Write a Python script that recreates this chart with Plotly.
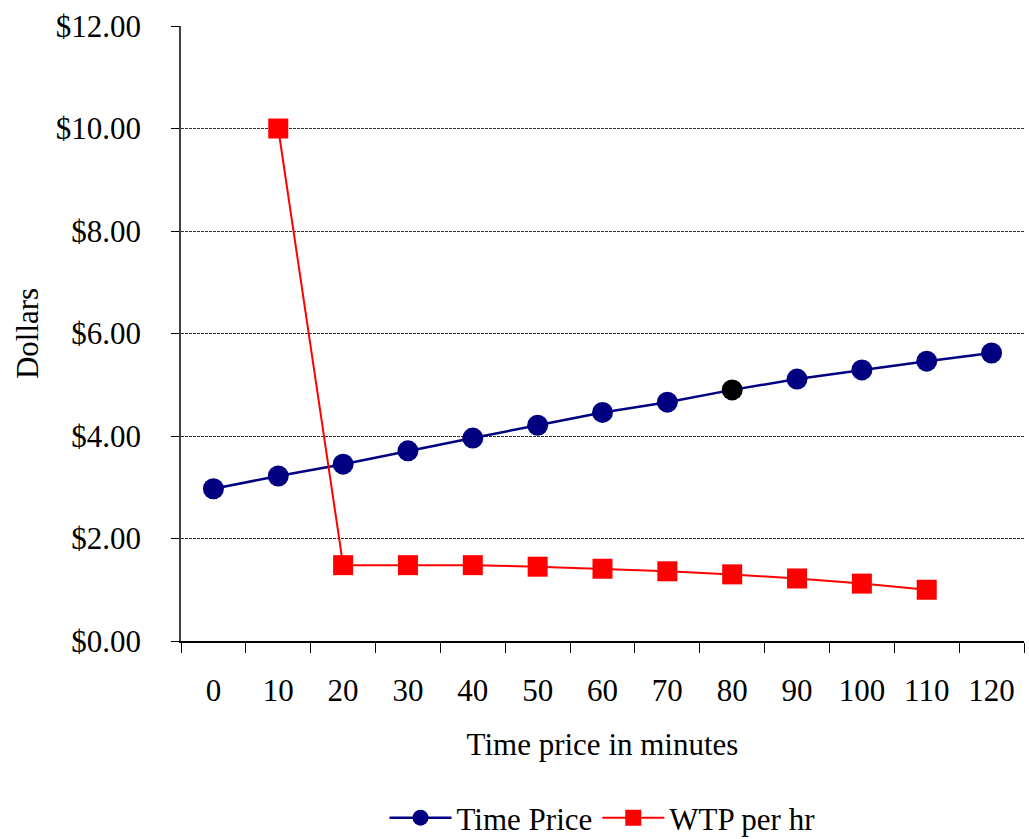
import plotly.graph_objects as go

minutes = ["0", "10", "20", "30", "40", "50", "60", "70", "80", "90", "100", "110", "120"]
time_price = [2.97, 3.22, 3.45, 3.71, 3.96, 4.21, 4.46, 4.66, 4.90, 5.11, 5.29, 5.46, 5.62]
wtp_per_hr = [None, 10.00, 1.48, 1.48, 1.48, 1.45, 1.41, 1.36, 1.30, 1.22, 1.12, 1.00, None]
y_ticks = [0, 2, 4, 6, 8, 10, 12]
y_tick_labels = ["$0.00", "$2.00", "$4.00", "$6.00", "$8.00", "$10.00", "$12.00"]

FONT = "Liberation Serif, Times New Roman, serif"
FS = 31
tp_colors = ["#000080"] * len(minutes)
tp_colors[minutes.index("80")] = "#000000"

fig = go.Figure()
fig.add_trace(go.Scatter(
    x=minutes, y=time_price, name="Time Price", mode="lines+markers",
    line=dict(color="#000080", width=2.5),
    marker=dict(symbol="circle", size=21, color=tp_colors, line=dict(width=0)),
))
fig.add_trace(go.Scatter(
    x=minutes, y=wtp_per_hr, name="WTP per hr", mode="lines+markers",
    line=dict(color="#FF0000", width=2),
    marker=dict(symbol="square", size=20, color="#FF0000", line=dict(width=0)),
    connectgaps=False,
))

fig.update_layout(
    width=1029, height=839,
    margin=dict(l=181, r=5, t=26, b=198, autoexpand=False),
    paper_bgcolor="white", plot_bgcolor="white",
    font=dict(family=FONT, size=FS, color="black"),
    showlegend=True,
    legend=dict(orientation="h", x=0.5, xanchor="center", y=-0.244, yanchor="top",
                font=dict(family=FONT, size=FS), itemwidth=62, tracegroupgap=0),
)
fig.update_xaxes(
    type="category", range=[-0.5, 12.5],
    tickson="boundaries", ticks="outside", ticklen=10, tickcolor="black", tickwidth=1,
    showline=True, linecolor="black", linewidth=1.5,
    showgrid=False, zeroline=False,
    ticklabelstandoff=21,
    title=dict(text="Time price in minutes", font=dict(family=FONT, size=FS), standoff=26),
)
fig.update_yaxes(
    range=[0, 12], tickvals=y_ticks, ticktext=y_tick_labels,
    ticks="outside", ticklen=8, tickcolor="black", tickwidth=1,
    showline=True, linecolor="#404040", linewidth=1.5,
    showgrid=True, gridcolor="#303030", gridwidth=1, griddash="3px,1px",
    zeroline=False, ticklabelstandoff=24,
    title=dict(text="Dollars", font=dict(family=FONT, size=FS), standoff=8),
)

fig.write_html("out.html")
